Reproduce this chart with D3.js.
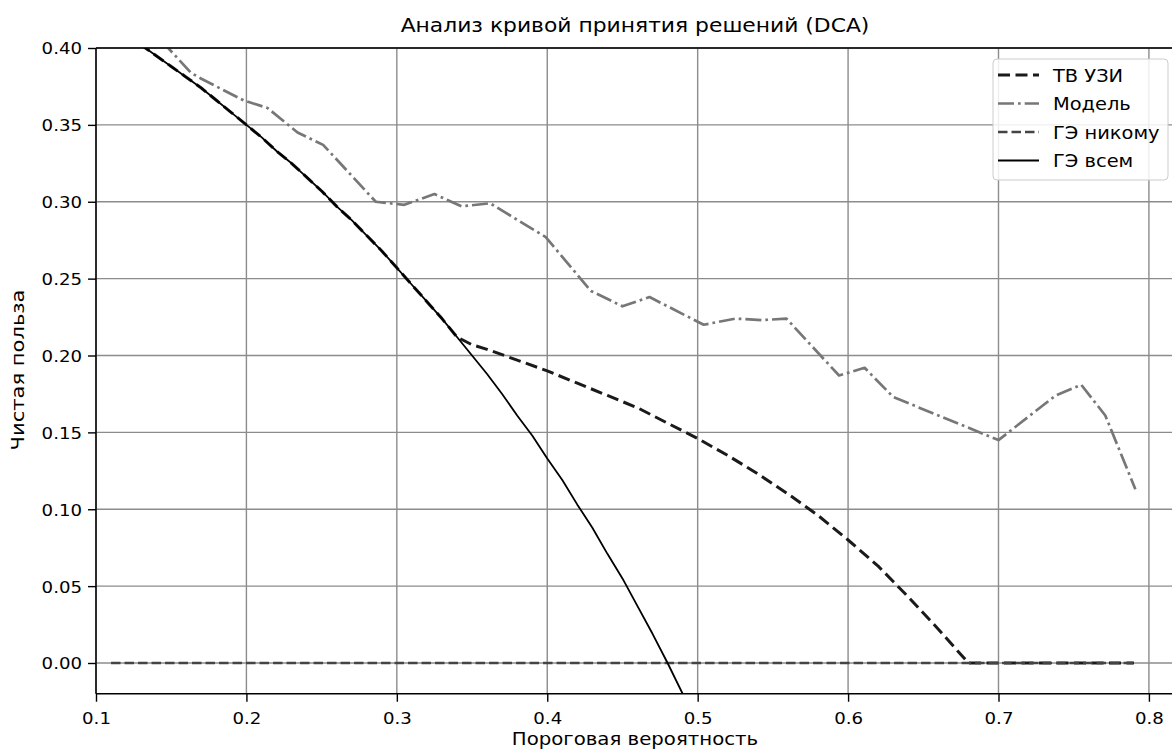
<!DOCTYPE html>
<html>
<head>
<meta charset="utf-8">
<script src="https://cdnjs.cloudflare.com/ajax/libs/d3/7.8.5/d3.min.js"></script>
<style>
  body { margin: 0; background: #fff; }
  svg { display: block; }
  text { font-family: "DejaVu Sans", sans-serif; fill: #000; }
</style>
</head>
<body>
<div id="chart"></div>
<script>
// Data
var allX = [0.11, 0.12, 0.13, 0.14, 0.15, 0.16, 0.17, 0.18, 0.19, 0.20, 0.21, 0.22, 0.23, 0.24, 0.25,
  0.26, 0.27, 0.28, 0.29, 0.30, 0.31, 0.32, 0.33, 0.34, 0.35, 0.36, 0.37, 0.38, 0.39, 0.40,
  0.41, 0.42, 0.43, 0.44, 0.45, 0.46, 0.47, 0.48, 0.49, 0.50]
var allY = [0.416, 0.409, 0.402, 0.395, 0.388, 0.381, 0.374, 0.366, 0.358, 0.350, 0.342, 0.333, 0.325, 0.316, 0.307,
  0.297, 0.288, 0.278, 0.268, 0.257, 0.246, 0.235, 0.224, 0.212, 0.200, 0.188, 0.175, 0.161, 0.148, 0.133,
  0.119, 0.103, 0.088, 0.071, 0.055, 0.037, 0.019, 0.000, -0.020, -0.040]

var usX = [0.11, 0.12, 0.13, 0.14, 0.15, 0.16, 0.17, 0.18, 0.19, 0.20, 0.21, 0.22, 0.23, 0.24, 0.25,
  0.26, 0.27, 0.28, 0.29, 0.30, 0.31, 0.32, 0.33, 0.34, 0.35, 0.36, 0.38, 0.40, 0.42, 0.44,
  0.46, 0.48, 0.50, 0.52, 0.54, 0.56, 0.58, 0.60, 0.62, 0.64, 0.66, 0.68, 0.70, 0.72, 0.74,
  0.76, 0.79]
var usY = [0.416, 0.409, 0.402, 0.395, 0.388, 0.381, 0.374, 0.366, 0.358, 0.350, 0.342, 0.333, 0.325, 0.316, 0.307,
  0.297, 0.288, 0.278, 0.268, 0.257, 0.246, 0.235, 0.224, 0.212, 0.207, 0.204, 0.197, 0.190, 0.182, 0.174,
  0.166, 0.156, 0.146, 0.135, 0.123, 0.110, 0.096, 0.080, 0.063, 0.043, 0.022, 0.000, 0.000, 0.000, 0.000,
  0.000, 0.000]

var modelX = [0.11, 0.13, 0.148, 0.163, 0.170, 0.198, 0.214, 0.234, 0.251, 0.286, 0.305, 0.325, 0.343, 0.362, 0.399,
  0.429, 0.450, 0.468, 0.504, 0.525, 0.543, 0.559, 0.594, 0.611, 0.630, 0.700, 0.738, 0.755, 0.771, 0.791]
var modelY = [0.445, 0.425, 0.400, 0.384, 0.380, 0.366, 0.361, 0.345, 0.337, 0.300, 0.298, 0.305, 0.297, 0.299, 0.277,
  0.242, 0.232, 0.238, 0.220, 0.224, 0.223, 0.224, 0.187, 0.192, 0.173, 0.145, 0.174, 0.181, 0.161, 0.113]

var noneX = [0.11, 0.79]
var noneY = [0, 0]

var xTicks = [0.1, 0.2, 0.3, 0.4, 0.5, 0.6, 0.7, 0.8]
var yTicks = [0.00, 0.05, 0.10, 0.15, 0.20, 0.25, 0.30, 0.35, 0.40]

var title = 'Анализ кривой принятия решений (DCA)'
var xLabel = 'Пороговая вероятность'
var yLabel = 'Чистая польза'

// series, in matplotlib draw order
var series = [
  { name: 'ТВ УЗИ', x: usX, y: usY, color: '#1a1a1a', width: 3, dash: '12,5.5' },
  { name: 'Модель', x: modelX, y: modelY, color: '#777777', width: 2.7, dash: '16,4,2.7,4' },
  { name: 'ГЭ никому', x: noneX, y: noneY, color: '#444444', width: 2.4, dash: '9.5,4' },
  { name: 'ГЭ всем', x: allX, y: allY, color: '#000000', width: 1.8, dash: null }
]

// Dimensions
var width = 1172
var height = 750
var margin = { top: 48, left: 96 }
var plotRight = 1179
var plotBottom = 693.75

var x = d3.scaleLinear().domain([0.1, 0.82]).range([margin.left, plotRight])
var y = d3.scaleLinear().domain([-0.02, 0.40]).range([plotBottom, margin.top])

var svg = d3.select('#chart').append('svg')
  .attr('width', width)
  .attr('height', height)

// text is a little wider than DejaVu in the source, so stretch it along its run
function label(g, txt, px, py, size, stretch, anchor, rot) {
  return g.append('text')
    .attr('transform', 'translate(' + px + ',' + py + ')' + (rot ? ' rotate(' + rot + ')' : '') + ' scale(' + stretch + ',1)')
    .attr('text-anchor', anchor)
    .style('font-size', size + 'px')
    .text(txt)
}

svg.append('defs').append('clipPath').attr('id', 'plot')
  .append('rect')
  .attr('x', margin.left).attr('y', margin.top)
  .attr('width', plotRight - margin.left).attr('height', plotBottom - margin.top)

// Grid
var grid = svg.append('g').attr('class', 'grid')
grid.selectAll('.gx').data(xTicks).enter().append('line')
  .attr('x1', function (d) { return x(d) }).attr('x2', function (d) { return x(d) })
  .attr('y1', margin.top).attr('y2', plotBottom)
  .attr('stroke', '#8c8c8c').attr('stroke-width', 1.4)
grid.selectAll('.gy').data(yTicks).enter().append('line')
  .attr('y1', function (d) { return y(d) }).attr('y2', function (d) { return y(d) })
  .attr('x1', margin.left).attr('x2', plotRight)
  .attr('stroke', '#8c8c8c').attr('stroke-width', 1.4)

// Lines
var line = d3.line()
  .x(function (d) { return x(d[0]) })
  .y(function (d) { return y(d[1]) })

var gLines = svg.append('g').attr('clip-path', 'url(#plot)')
series.forEach(function (s) {
  var pts = s.x.map(function (v, i) { return [v, s.y[i]] })
  gLines.append('path')
    .datum(pts)
    .attr('d', line)
    .attr('fill', 'none')
    .attr('stroke', s.color)
    .attr('stroke-width', s.width)
    .attr('stroke-dasharray', s.dash)
    .attr('stroke-linejoin', 'round')
})

// Axes
var xAxis = d3.axisBottom(x).tickValues(xTicks).tickSize(8).tickPadding(6).tickFormat(d3.format('.1f'))
var yAxis = d3.axisLeft(y).tickValues(yTicks).tickSize(8).tickPadding(6).tickFormat(d3.format('.2f'))

var gx = svg.append('g').attr('transform', 'translate(0,' + plotBottom + ')').call(xAxis)
var gy = svg.append('g').attr('transform', 'translate(' + margin.left + ',0)').call(yAxis)
;[gx, gy].forEach(function (g) {
  g.select('.domain').remove()
  g.selectAll('line').attr('stroke', '#000').attr('stroke-width', 1.4)
  g.selectAll('text').style('font-size', '16.5px').style('font-family', '"DejaVu Sans", sans-serif').attr('fill', '#000')
})
gx.selectAll('.tick text').attr('y', 0).attr('dy', 0)
  .attr('transform', 'translate(0,30) scale(1.1,1)')
gy.selectAll('.tick text').attr('dy', '0.36em')
  .attr('transform', 'translate(-14,0) scale(1.1,1)')
  .attr('x', 0)

// Spines
svg.append('line').attr('x1', margin.left).attr('x2', margin.left).attr('y1', margin.top).attr('y2', plotBottom)
  .attr('stroke', '#000').attr('stroke-width', 1.5)
svg.append('line').attr('x1', margin.left).attr('x2', plotRight).attr('y1', plotBottom).attr('y2', plotBottom)
  .attr('stroke', '#000').attr('stroke-width', 1.5)
svg.append('line').attr('x1', margin.left).attr('x2', plotRight).attr('y1', margin.top).attr('y2', margin.top)
  .attr('stroke', '#000').attr('stroke-width', 1.5)

// Labels
label(svg, title, 635, 32, 19.5, 1.12, 'middle')
label(svg, xLabel, 635, 745, 17, 1.16, 'middle')
label(svg, yLabel, 24, 370, 18, 1.17, 'middle', -90)

// Legend
var lg = svg.append('g').attr('transform', 'translate(993,59)')
lg.append('rect')
  .attr('width', 175).attr('height', 121)
  .attr('rx', 4)
  .attr('fill', '#fff').attr('fill-opacity', 0.85)
  .attr('stroke', '#cccccc').attr('stroke-width', 1)
series.forEach(function (s, i) {
  var ry = 16 + i * 28.5
  lg.append('line')
    .attr('x1', 5).attr('x2', 46)
    .attr('y1', ry).attr('y2', ry)
    .attr('stroke', s.color)
    .attr('stroke-width', s.width)
    .attr('stroke-dasharray', s.dash)
  label(lg, s.name, 60, ry + 6.5, 17.5, 1.11, 'start')
})
</script>
</body>
</html>
